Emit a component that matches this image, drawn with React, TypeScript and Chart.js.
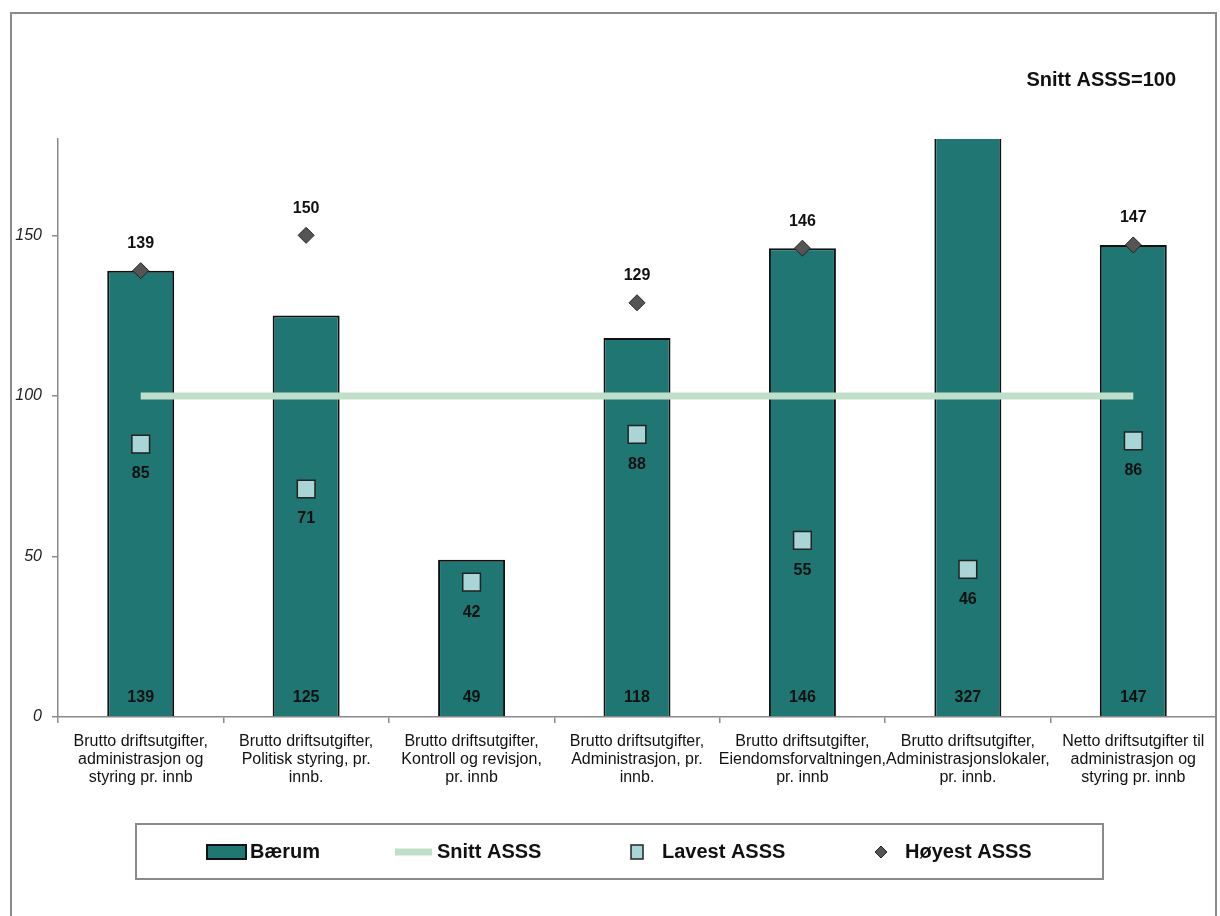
import React, { useEffect, useRef } from "react";
import { Chart, registerables } from "chart.js";

Chart.register(...registerables);

const categories: string[][] = [
  ["Brutto driftsutgifter,", "administrasjon og", "styring pr. innb"],
  ["Brutto driftsutgifter,", "Politisk styring, pr.", "innb."],
  ["Brutto driftsutgifter,", "Kontroll og revisjon,", "pr. innb"],
  ["Brutto driftsutgifter,", "Administrasjon, pr.", "innb."],
  ["Brutto driftsutgifter,", "Eiendomsforvaltningen,", "pr. innb"],
  ["Brutto driftsutgifter,", "Administrasjonslokaler,", "pr. innb."],
  ["Netto driftsutgifter til", "administrasjon og", "styring pr. innb"],
];

const baerum: number[] = [139, 125, 49, 118, 146, 327, 147];
const snitt: number[] = [100, 100, 100, 100, 100, 100, 100];
const lavest: number[] = [85, 71, 42, 88, 55, 46, 86];
const hoyest: (number | null)[] = [139, 150, null, 129, 146, null, 147];

const yTicks: number[] = [0, 50, 100, 150];
const title = "Snitt ASSS=100";
const seriesNames = ["Bærum", "Snitt ASSS", "Lavest ASSS", "Høyest ASSS"];

const FONT = '"Liberation Sans", Arial, sans-serif';
const BAR_COLOR = "#1F7673";
const LINE_COLOR = "#BFDFCA";
const LAVEST_COLOR = "#A9D5D6";
const HOYEST_COLOR = "#555555";

const decorPlugin = {
  id: "decor",
  beforeDraw(chart: any) {
    const ctx = chart.ctx;
    ctx.save();
    ctx.fillStyle = "#ffffff";
    ctx.fillRect(0, 0, chart.width, chart.height);
    ctx.strokeStyle = "#8a8a8a";
    ctx.lineWidth = 2;
    ctx.strokeRect(11, 13, 1205, 960);
    ctx.restore();
  },
  afterDatasetsDraw(chart: any) {
    const ctx = chart.ctx;
    const y = chart.scales.y;
    const area = chart.chartArea;
    ctx.save();
    ctx.font = `bold 16px ${FONT}`;
    ctx.fillStyle = "#111111";
    ctx.textAlign = "center";
    ctx.textBaseline = "middle";
    const barMeta = chart.getDatasetMeta(0);
    barMeta.data.forEach((el: any, i: number) => {
      ctx.fillText(String(baerum[i]), el.x, y.getPixelForValue(0) - 19);
    });
    const lavMeta = chart.getDatasetMeta(2);
    lavMeta.data.forEach((el: any, i: number) => {
      ctx.fillText(String(lavest[i]), el.x, y.getPixelForValue(lavest[i]) + 30);
    });
    const hoyMeta = chart.getDatasetMeta(3);
    hoyMeta.data.forEach((el: any, i: number) => {
      const v = hoyest[i];
      if (v === null) return;
      const py = y.getPixelForValue(v);
      if (py < area.top) return;
      ctx.fillText(String(v), el.x, py - 27);
    });
    ctx.restore();
  },
  afterDraw(chart: any) {
    const ctx = chart.ctx;
    ctx.save();
    // title
    ctx.font = `bold 20px ${FONT}`;
    ctx.fillStyle = "#111111";
    ctx.textAlign = "right";
    ctx.textBaseline = "middle";
    ctx.fillText(title, 1176, 80);

    // legend box
    ctx.strokeStyle = "#8a8a8a";
    ctx.lineWidth = 2;
    ctx.strokeRect(136, 824, 967, 55);
    const cy = 852;
    ctx.font = `bold 20px ${FONT}`;
    ctx.textAlign = "left";
    ctx.fillStyle = "#111111";
    // Bærum
    ctx.fillStyle = BAR_COLOR;
    ctx.fillRect(207, cy - 7, 39, 14);
    ctx.strokeStyle = "#111111";
    ctx.lineWidth = 2;
    ctx.strokeRect(207, cy - 7, 39, 14);
    ctx.fillStyle = "#111111";
    ctx.fillText(seriesNames[0], 250, cy);
    // Snitt
    ctx.strokeStyle = LINE_COLOR;
    ctx.lineWidth = 7;
    ctx.beginPath();
    ctx.moveTo(395, cy);
    ctx.lineTo(432, cy);
    ctx.stroke();
    ctx.fillText(seriesNames[1], 437, cy);
    // Lavest
    ctx.fillStyle = LAVEST_COLOR;
    ctx.fillRect(631, cy - 7, 12, 14);
    ctx.strokeStyle = "#222222";
    ctx.lineWidth = 1.5;
    ctx.strokeRect(631, cy - 7, 12, 14);
    ctx.fillStyle = "#111111";
    ctx.fillText(seriesNames[2], 662, cy);
    // Hoyest
    ctx.fillStyle = HOYEST_COLOR;
    ctx.beginPath();
    ctx.moveTo(881, cy - 6);
    ctx.lineTo(887, cy);
    ctx.lineTo(881, cy + 6);
    ctx.lineTo(875, cy);
    ctx.closePath();
    ctx.fill();
    ctx.strokeStyle = "#222222";
    ctx.lineWidth = 1;
    ctx.stroke();
    ctx.fillStyle = "#111111";
    ctx.fillText(seriesNames[3], 905, cy);
    ctx.restore();
  },
};

export default function App() {
  const ref = useRef<HTMLCanvasElement | null>(null);

  useEffect(() => {
    if (!ref.current) return;
    Chart.defaults.font.family = FONT;
    const chart = new Chart(ref.current, {
      type: "bar",
      data: {
        labels: categories as any,
        datasets: [
          {
            type: "bar",
            label: seriesNames[0],
            data: baerum,
            backgroundColor: BAR_COLOR,
            borderColor: "#111111",
            borderWidth: 2,
            barPercentage: 0.405,
            categoryPercentage: 1,
            order: 4,
          } as any,
          {
            type: "line",
            label: seriesNames[1],
            data: snitt,
            borderColor: LINE_COLOR,
            borderWidth: 7,
            pointRadius: 0,
            fill: false,
            order: 3,
          },
          {
            type: "line",
            label: seriesNames[2],
            data: lavest,
            showLine: false,
            pointStyle: "rect",
            pointRadius: 12.5,
            pointBackgroundColor: LAVEST_COLOR,
            pointBorderColor: "#222222",
            pointBorderWidth: 1.5,
            order: 2,
          },
          {
            type: "line",
            label: seriesNames[3],
            data: hoyest,
            showLine: false,
            pointStyle: "rectRot",
            pointRadius: 8,
            pointBackgroundColor: HOYEST_COLOR,
            pointBorderColor: "#222222",
            pointBorderWidth: 1,
            order: 1,
          },
        ],
      },
      options: {
        animation: false,
        responsive: true,
        maintainAspectRatio: false,
        layout: { autoPadding: false, padding: { top: 139, right: 4, left: 0, bottom: 0 } },
        plugins: {
          legend: { display: false },
          tooltip: { enabled: false },
          title: { display: false },
        },
        scales: {
          x: {
            grid: {
              offset: true,
              drawOnChartArea: false,
              drawTicks: true,
              tickLength: 6,
              color: "#8a8a8a",
              lineWidth: 1.5,
            },
            border: { color: "#8a8a8a", width: 1.5 },
            ticks: {
              autoSkip: false,
              maxRotation: 0,
              padding: 9,
              color: "#111111",
              font: { size: 16, family: FONT, lineHeight: 1.15 },
            },
            afterFit(scale: any) {
              scale.height = 199;
              scale.paddingLeft = 0;
              scale.paddingRight = 0;
            },
          },
          y: {
            min: 0,
            max: 180,
            ticks: {
              stepSize: 50,
              padding: 10,
              color: "#222222",
              font: { size: 16, style: "italic", family: FONT },
            },
            afterBuildTicks(scale: any) {
              scale.ticks = yTicks.map((v) => ({ value: v }));
            },
            grid: {
              drawOnChartArea: false,
              drawTicks: true,
              tickLength: 6,
              color: "#8a8a8a",
              lineWidth: 1.5,
            },
            border: { color: "#8a8a8a", width: 1.5 },
            afterFit(scale: any) {
              scale.width = 58;
              scale.paddingTop = 0;
              scale.paddingBottom = 0;
            },
          },
        },
      },
      plugins: [decorPlugin],
    });
    return () => chart.destroy();
  }, []);

  return (
    <div style={{ position: "fixed", left: 0, top: 0, width: 1220, height: 916, background: "#fff" }}>
      <canvas ref={ref} />
    </div>
  );
}
